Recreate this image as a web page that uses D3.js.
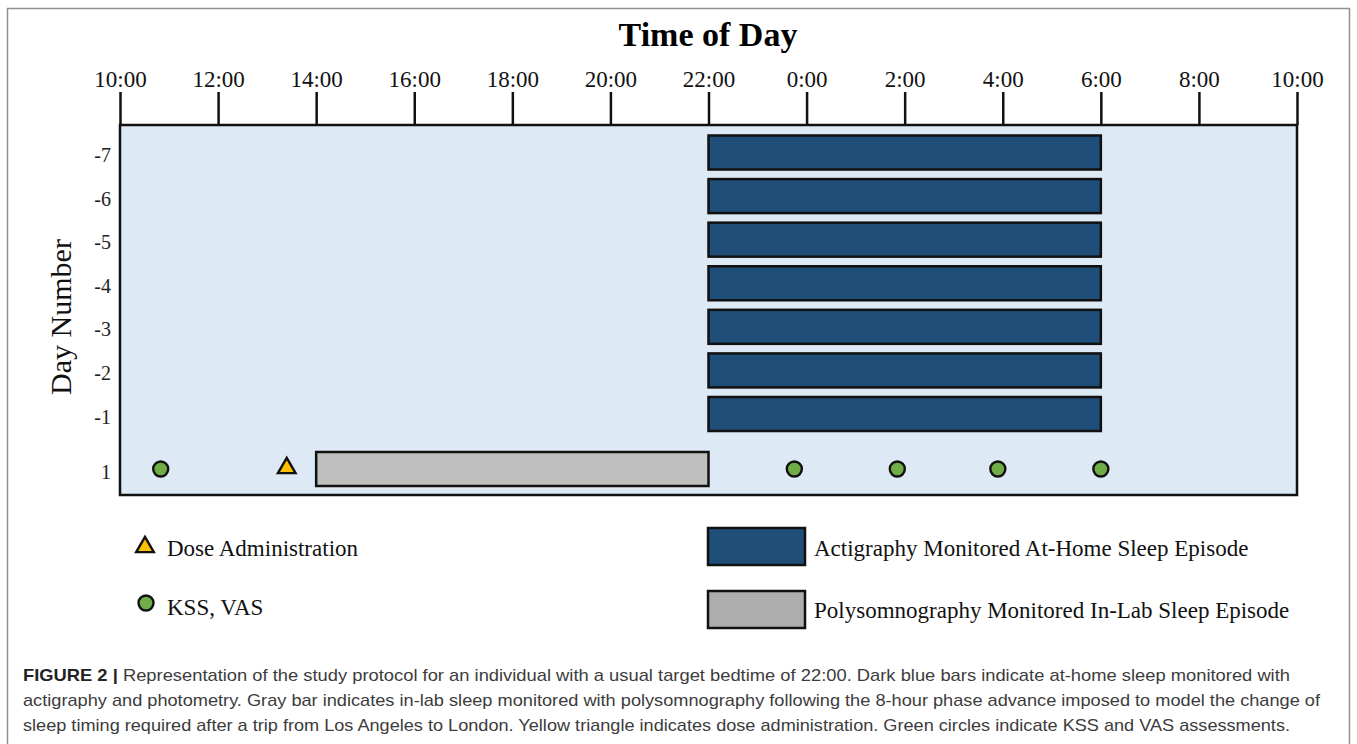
<!DOCTYPE html>
<html>
<head>
<meta charset="utf-8">
<script src="https://cdn.jsdelivr.net/npm/d3@7"></script>
<style>
  html, body { margin: 0; padding: 0; background: #fff; }
  svg { display: block; }
</style>
</head>
<body>
<svg id="chart" width="1357" height="744"></svg>
<script>
// ---- data ----
const tickHours = [10, 12, 14, 16, 18, 20, 22, 24, 26, 28, 30, 32, 34];
const tickLabels = ["10:00", "12:00", "14:00", "16:00", "18:00", "20:00", "22:00", "0:00", "2:00", "4:00", "6:00", "8:00", "10:00"];
const dayNumbers = [-7, -6, -5, -4, -3, -2, -1, 1];
const dayLabels = ["-7", "-6", "-5", "-4", "-3", "-2", "-1", "1"];
const homeDays = [-7, -6, -5, -4, -3, -2, -1];
const homeStart = [22, 22, 22, 22, 22, 22, 22];
const homeEnd = [30, 30, 30, 30, 30, 30, 30];
const labDays = [1];
const labStart = [14];
const labEnd = [22];
const doseDays = [1];
const doseTimes = [13.4];
const kssDays = [1, 1, 1, 1, 1];
const kssTimes = [10.83, 23.75, 25.85, 27.9, 30.0];
const legendLabels = ["Dose Administration", "KSS, VAS", "Actigraphy Monitored At-Home Sleep Episode", "Polysomnography Monitored In-Lab Sleep Episode"];
const captionBold = "FIGURE 2 |";
const captionLines = [
  " Representation of the study protocol for an individual with a usual target bedtime of 22:00. Dark blue bars indicate at-home sleep monitored with",
  "actigraphy and photometry. Gray bar indicates in-lab sleep monitored with polysomnography following the 8-hour phase advance imposed to model the change of",
  "sleep timing required after a trip from Los Angeles to London. Yellow triangle indicates dose administration. Green circles indicate KSS and VAS assessments."
];

// ---- styles ----
const serif = "'Liberation Serif', 'Times New Roman', 'DejaVu Serif', serif";
const sans = "'Liberation Sans Narrow', 'Liberation Sans', Arial, sans-serif";
const C = {
  bg: "#dde9f5", blue: "#1f4e79", gray: "#bfbfbf", grayLeg: "#adadad",
  green: "#70ad47", yellow: "#ffc000", ink: "#111"
};

const svg = d3.select("#chart");

// outer frame
svg.append("rect").attr("x", 7.5).attr("y", 8.5).attr("width", 1342).attr("height", 760)
  .attr("fill", "none").attr("stroke", "#8f8f8f").attr("stroke-width", 1.5);

const plot = { left: 120, right: 1297, top: 125, bottom: 495 };

const x = d3.scaleLinear().domain([10, 34]).range([plot.left, plot.right]);
const y = d3.scaleLinear().domain([-7, -1, 1]).range([152.5, 414, 469]);

// plot background
svg.append("rect")
  .attr("x", plot.left).attr("y", plot.top)
  .attr("width", plot.right - plot.left).attr("height", plot.bottom - plot.top)
  .attr("fill", C.bg);

const barH = 34;
// at-home sleep bars
svg.append("g").selectAll("rect").data(homeDays).join("rect")
  .attr("x", (d, i) => x(homeStart[i]))
  .attr("y", d => y(d) - barH / 2)
  .attr("width", (d, i) => x(homeEnd[i]) - x(homeStart[i]))
  .attr("height", barH)
  .attr("fill", C.blue).attr("stroke", C.ink).attr("stroke-width", 2.5);

// in-lab sleep bar
svg.append("g").selectAll("rect").data(labDays).join("rect")
  .attr("x", (d, i) => x(labStart[i]))
  .attr("y", d => y(d) - barH / 2)
  .attr("width", (d, i) => x(labEnd[i]) - x(labStart[i]))
  .attr("height", barH)
  .attr("fill", C.gray).attr("stroke", C.ink).attr("stroke-width", 2.5);

// KSS / VAS circles
svg.append("g").selectAll("circle").data(kssTimes).join("circle")
  .attr("cx", d => x(d)).attr("cy", (d, i) => y(kssDays[i]))
  .attr("r", 7.5).attr("fill", C.green).attr("stroke", C.ink).attr("stroke-width", 2.4);

// dose triangle
const tri = d3.symbol().type(d3.symbolTriangle).size(135);
svg.append("g").selectAll("path").data(doseTimes).join("path")
  .attr("transform", (d, i) => `translate(${x(d)},${y(doseDays[i]) - 1})`)
  .attr("d", tri).attr("fill", C.yellow).attr("stroke", C.ink).attr("stroke-width", 2.4)
  .attr("stroke-linejoin", "miter");

// plot border
svg.append("rect")
  .attr("x", plot.left).attr("y", plot.top)
  .attr("width", plot.right - plot.left).attr("height", plot.bottom - plot.top)
  .attr("fill", "none").attr("stroke", C.ink).attr("stroke-width", 2.5);

// top axis
const xAxis = d3.axisTop(x).tickValues(tickHours)
  .tickFormat((d, i) => tickLabels[i]).tickSize(33).tickPadding(5);
const gx = svg.append("g").attr("transform", `translate(0,${plot.top})`).call(xAxis);
gx.select(".domain").remove();
gx.selectAll(".tick line").attr("stroke", C.ink).attr("stroke-width", 2.5);
gx.selectAll(".tick text").attr("fill", "#111").style("font-family", serif).style("font-size", "23px");

// left axis (labels only)
const yAxis = d3.axisLeft(y).tickValues(dayNumbers)
  .tickFormat((d, i) => dayLabels[i]).tickSize(0).tickPadding(9);
const gy = svg.append("g").attr("transform", `translate(${plot.left},0)`).call(yAxis);
gy.select(".domain").remove();
gy.selectAll(".tick text").attr("fill", "#222").attr("dy", "0.45em")
  .style("font-family", serif).style("font-size", "20px");

// title
svg.append("text").attr("x", 708).attr("y", 46).attr("text-anchor", "middle")
  .style("font-family", serif).style("font-size", "34px").style("font-weight", "bold")
  .attr("fill", "#000").text("Time of Day");

// y label
svg.append("text").attr("transform", "translate(71,317) rotate(-90)").attr("text-anchor", "middle")
  .style("font-family", serif).style("font-size", "30px").attr("fill", "#111").text("Day Number");

// legend
const lg = svg.append("g").style("font-family", serif).style("font-size", "23px").attr("fill", "#111");
lg.append("path").attr("transform", "translate(145,547)").attr("d", tri)
  .attr("fill", C.yellow).attr("stroke", C.ink).attr("stroke-width", 2.4);
lg.append("text").attr("x", 167).attr("y", 556).text(legendLabels[0]);
lg.append("circle").attr("cx", 146).attr("cy", 603).attr("r", 7.5)
  .attr("fill", C.green).attr("stroke", C.ink).attr("stroke-width", 2.4);
lg.append("text").attr("x", 167).attr("y", 615).text(legendLabels[1]);
lg.append("rect").attr("x", 708).attr("y", 528).attr("width", 97).attr("height", 37)
  .attr("fill", C.blue).attr("stroke", C.ink).attr("stroke-width", 2.5);
lg.append("text").attr("x", 814).attr("y", 556).text(legendLabels[2]);
lg.append("rect").attr("x", 708).attr("y", 591).attr("width", 97).attr("height", 37)
  .attr("fill", C.grayLeg).attr("stroke", C.ink).attr("stroke-width", 2.5);
lg.append("text").attr("x", 814).attr("y", 618).text(legendLabels[3]);

// caption
const capY = [681, 706, 731];
const capLen = [1267, 1297, 1267];
captionLines.forEach((line, i) => {
  const t = svg.append("text").attr("x", 23).attr("y", capY[i])
    .style("font-family", sans).style("font-size", "17px").attr("fill", "#3c3c3c")
    .attr("textLength", capLen[i]).attr("lengthAdjust", "spacingAndGlyphs");
  if (i === 0) {
    t.append("tspan").style("font-weight", "bold").attr("fill", "#222").text(captionBold);
  }
  t.append("tspan").text(line);
});
</script>
</body>
</html>
